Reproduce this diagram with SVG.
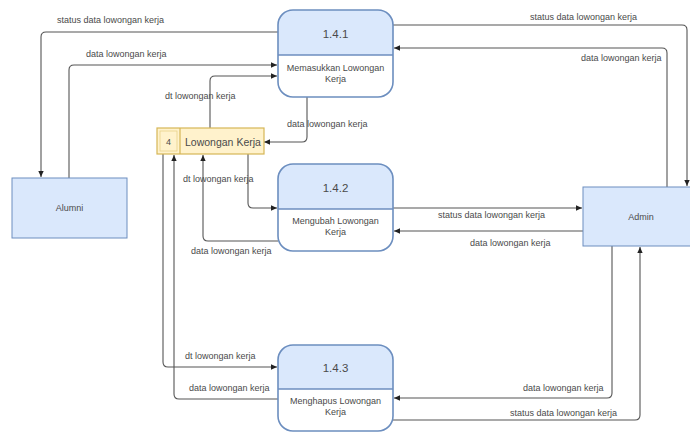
<svg xmlns="http://www.w3.org/2000/svg" width="690" height="432" viewBox="0 0 690 432">
<defs>
<marker id="arr" viewBox="0 0 10 10" refX="9" refY="5" markerWidth="7" markerHeight="7" orient="auto" markerUnits="userSpaceOnUse">
<path d="M0,1 L9,5 L0,9 Z" fill="#222"/>
</marker>
<style>
.t{font-family:"Liberation Sans",Arial,sans-serif;fill:#4a4a4a;}
.lbl{font-size:9px;}
.sub{font-size:9px;}
.ttl{font-size:11.5px;}
.ent{fill:#dae8fc;stroke:#6c8ebf;stroke-width:1;}
.hdr{fill:#dae8fc;}
.box{fill:none;stroke:#6c8ebf;stroke-width:1.6;}
.con{fill:none;stroke:#555;stroke-width:1.1;marker-end:url(#arr);}
.st{fill:#fff2cc;stroke:#d6b656;stroke-width:1.2;}
</style>
</defs>
<rect width="690" height="432" fill="#fff"/>

<g id="connectors">
<path class="con" d="M278,32 H46 Q41,32 41,37 V177"/>
<path class="con" d="M69,178 V70 Q69,65 74,65 H277"/>
<path class="con" d="M210,128 V81 Q210,76 215,76 H277"/>
<path class="con" d="M307,97 V137 Q307,142 302,142 H264"/>
<path class="con" d="M393,25 H682 Q687,25 687,30 V186"/>
<path class="con" d="M667,187 V53 Q667,48 662,48 H394"/>
<path class="con" d="M248,154 V203 Q248,208 253,208 H277"/>
<path class="con" d="M278,241 H208 Q203,241 203,236 V155"/>
<path class="con" d="M393,208 H582"/>
<path class="con" d="M583,231 H394"/>
<path class="con" d="M163,154 V362 Q163,367 168,367 H277"/>
<path class="con" d="M278,399 H179 Q174,399 174,394 V155"/>
<path class="con" d="M612,246 V393 Q612,398 607,398 H394"/>
<path class="con" d="M393,420 H635 Q640,420 640,415 V247"/>
</g>

<g id="connector-labels" class="t lbl">
<text x="57" y="23">status data lowongan kerja</text>
<text x="86" y="57">data lowongan kerja</text>
<text x="165" y="99">dt lowongan kerja</text>
<text x="287" y="127">data lowongan kerja</text>
<text x="530" y="20">status data lowongan kerja</text>
<text x="581" y="61">data lowongan kerja</text>
<text x="183" y="182">dt lowongan kerja</text>
<text x="191" y="254">data lowongan kerja</text>
<text x="438" y="218">status data lowongan kerja</text>
<text x="470" y="246">data lowongan kerja</text>
<text x="185" y="359">dt lowongan kerja</text>
<text x="189" y="391">data lowongan kerja</text>
<text x="523" y="391">data lowongan kerja</text>
<text x="510" y="416">status data lowongan kerja</text>
</g>

<g id="alumni">
<rect class="ent" x="12" y="178" width="115" height="60"/>
<text class="t sub" x="69.5" y="211" text-anchor="middle">Alumni</text>
</g>

<g id="admin">
<rect class="ent" x="583" y="187" width="110" height="59"/>
<text class="t sub" x="641" y="220" text-anchor="middle">Admin</text>
</g>

<g id="store-4">
<rect class="st" x="157" y="128" width="107" height="26"/>
<line x1="180" y1="128" x2="180" y2="154" stroke="#d6b656" stroke-width="1.2"/>
<rect x="160" y="131" width="17" height="20" fill="none" stroke="#e8d28a" stroke-width="0.8"/>
<text class="t" x="168.5" y="145" font-size="9" text-anchor="middle">4</text>
<text class="t" x="185" y="145.5" font-size="10.5">Lowongan Kerja</text>
</g>

<g id="p141">
<path class="hdr" d="M278,55 V25 Q278,10 293,10 H378 Q393,10 393,25 V55 Z"/>
<rect class="box" x="278" y="10" width="115" height="87" rx="15"/>
<line x1="278" y1="55" x2="393" y2="55" stroke="#6c8ebf" stroke-width="1.4"/>
<text class="t ttl" x="335.5" y="38" text-anchor="middle">1.4.1</text>
<text class="t sub" x="335.5" y="71" text-anchor="middle">Memasukkan Lowongan</text>
<text class="t sub" x="335.5" y="82" text-anchor="middle">Kerja</text>
</g>

<g id="p142">
<path class="hdr" d="M278,209 V179 Q278,164 293,164 H378 Q393,164 393,179 V209 Z"/>
<rect class="box" x="278" y="164" width="115" height="87" rx="15"/>
<line x1="278" y1="209" x2="393" y2="209" stroke="#6c8ebf" stroke-width="1.4"/>
<text class="t ttl" x="335.5" y="192" text-anchor="middle">1.4.2</text>
<text class="t sub" x="335.5" y="224" text-anchor="middle">Mengubah Lowongan</text>
<text class="t sub" x="335.5" y="235" text-anchor="middle">Kerja</text>
</g>

<g id="p143">
<path class="hdr" d="M278,389 V360 Q278,345 293,345 H378 Q393,345 393,360 V389 Z"/>
<rect class="box" x="278" y="345" width="115" height="86" rx="15"/>
<line x1="278" y1="389" x2="393" y2="389" stroke="#6c8ebf" stroke-width="1.4"/>
<text class="t ttl" x="335.5" y="372" text-anchor="middle">1.4.3</text>
<text class="t sub" x="335.5" y="404" text-anchor="middle">Menghapus Lowongan</text>
<text class="t sub" x="335.5" y="415" text-anchor="middle">Kerja</text>
</g>
</svg>
